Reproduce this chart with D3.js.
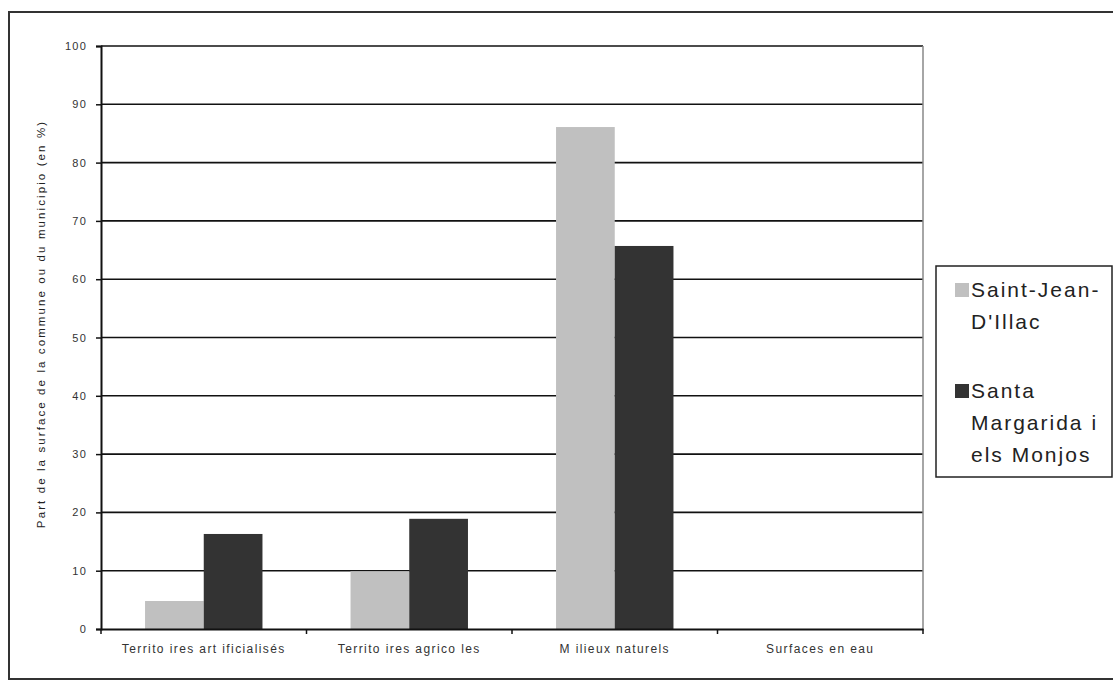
<!DOCTYPE html>
<html>
<head>
<meta charset="utf-8">
<script src="https://cdn.jsdelivr.net/npm/d3@7"></script>
<style>
  body { margin: 0; background: #fff; }
  svg { display: block; font-family: Arial, "Liberation Sans", sans-serif; }
</style>
</head>
<body>
<script>
// categories and series
var categories = ["Territo ires art ificialisés", "Territo ires agrico les", "M ilieux naturels", "Surfaces en eau"];
var seriesNames = ["Saint-Jean-D'Illac", "Santa Margarida i els Monjos"];
var saintJean = [4.8, 9.9, 86.1, 0];
var santaMargarida = [16.3, 18.9, 65.7, 0];
var yTicks = [0, 10, 20, 30, 40, 50, 60, 70, 80, 90, 100];
var colors = ["#c0c0c0", "#333333"];

var W = 1113, H = 681;
var plot = {left: 101, right: 923, top: 46, bottom: 629};

var svg = d3.select("body").append("svg")
    .attr("width", W).attr("height", H);

// outer frame
svg.append("rect").attr("x", 9).attr("y", 12)
    .attr("width", W + 10).attr("height", H - 14)
    .attr("fill", "none").attr("stroke", "#333").attr("stroke-width", 2);

var x = d3.scaleBand().domain(categories).range([plot.left, plot.right]);
var xInner = d3.scaleBand().domain([0, 1])
    .range([0, x.bandwidth()]).paddingOuter(0.75).paddingInner(0);
var y = d3.scaleLinear().domain([0, 100]).range([plot.bottom, plot.top]);

// gridlines
svg.append("g").selectAll("line").data(yTicks.filter(function(d){ return d > 0; }))
  .enter().append("line")
    .attr("x1", plot.left).attr("x2", plot.right)
    .attr("y1", function(d){ return y(d); }).attr("y2", function(d){ return y(d); })
    .attr("stroke", "#111").attr("stroke-width", 1.6);

// right edge of plot
svg.append("line").attr("x1", plot.right).attr("x2", plot.right)
    .attr("y1", plot.top).attr("y2", plot.bottom)
    .attr("stroke", "#888").attr("stroke-width", 1.5);

// bars
var rows = categories.map(function(c, i){ return {cat: c, vals: [saintJean[i], santaMargarida[i]]}; });
var groups = svg.append("g").selectAll("g").data(rows).enter().append("g")
    .attr("transform", function(d){ return "translate(" + x(d.cat) + ",0)"; });
groups.selectAll("rect").data(function(d){ return d.vals; }).enter().append("rect")
    .attr("x", function(d, i){ return xInner(i); })
    .attr("width", xInner.bandwidth())
    .attr("y", function(d){ return y(d); })
    .attr("height", function(d){ return y(0) - y(d); })
    .attr("fill", function(d, i){ return colors[i]; });

// y axis
var yAxis = svg.append("g").attr("transform", "translate(" + plot.left + ",0)")
    .call(d3.axisLeft(y).tickValues(yTicks).tickSize(5).tickPadding(9));
yAxis.select(".domain").attr("stroke", "#111").attr("stroke-width", 2);
yAxis.selectAll(".tick line").attr("stroke", "#111").attr("stroke-width", 1.5);
yAxis.selectAll(".tick text").attr("font-size", 11).attr("letter-spacing", 1.2).attr("fill", "#333");

// x axis
var xAxis = svg.append("g").attr("transform", "translate(0," + plot.bottom + ")")
    .call(d3.axisBottom(x).tickSize(0).tickPadding(15));
xAxis.select(".domain").attr("stroke", "#111").attr("stroke-width", 2);
xAxis.selectAll(".tick text").attr("font-size", 12).attr("letter-spacing", 1.4).attr("fill", "#333");
svg.append("g").selectAll("line").data(d3.range(categories.length + 1))
  .enter().append("line")
    .attr("x1", function(i){ return plot.left + i * x.step(); })
    .attr("x2", function(i){ return plot.left + i * x.step(); })
    .attr("y1", plot.bottom).attr("y2", plot.bottom + 5)
    .attr("stroke", "#111").attr("stroke-width", 1.5);

// y title
svg.append("text")
    .attr("transform", "translate(45,324) rotate(-90)")
    .attr("text-anchor", "middle").attr("font-size", 11.5).attr("letter-spacing", 2.1).attr("fill", "#222")
    .text("Part de la surface de la commune ou du municipio (en %)");

// legend
var lg = svg.append("g");
lg.append("rect").attr("x", 936).attr("y", 266).attr("width", 176).attr("height", 211)
    .attr("fill", "#fff").attr("stroke", "#222").attr("stroke-width", 1.5);
var legendLines = [["Saint-Jean-", "D'Illac"], ["Santa", "Margarida i", "els Monjos"]];
var legendTop = [297, 398];
legendLines.forEach(function(lines, i){
  lg.append("rect").attr("x", 955).attr("y", legendTop[i] - 14).attr("width", 14).attr("height", 14)
      .attr("fill", colors[i]);
  lines.forEach(function(t, j){
    lg.append("text").attr("x", 971).attr("y", legendTop[i] + j * 32)
        .attr("font-size", 21).attr("letter-spacing", 2).attr("fill", "#222").text(t);
  });
});
</script>
</body>
</html>
